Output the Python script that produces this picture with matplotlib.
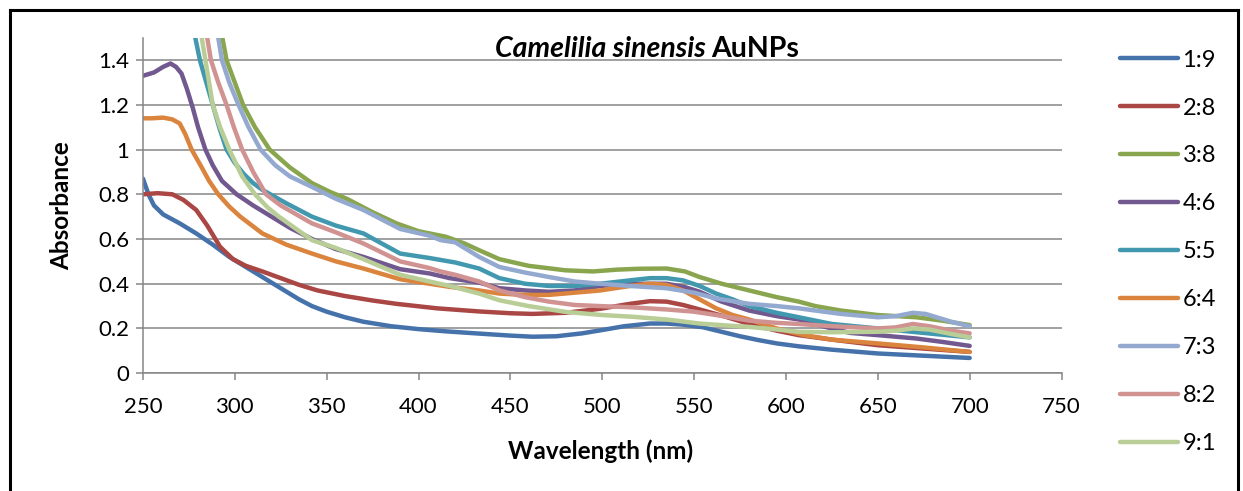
import matplotlib.pyplot as plt
from matplotlib.lines import Line2D

plt.rcParams['font.family'] = ['Lato', 'DejaVu Sans']

# series data (wavelength in nm, absorbance)
labels = ['1:9', '2:8', '3:8', '4:6', '5:5', '6:4', '7:3', '8:2', '9:1']
colors = ['#4572AA', '#AA4643', '#89A54E', '#71588F', '#4198AF',
          '#DB843D', '#93A9CF', '#D19392', '#B9CD96']

wl_1_9 = [250, 253, 256, 261, 270, 279, 288, 297, 306, 315, 325, 335, 342, 350, 360, 370, 385, 400,
          415, 433, 450, 462, 475, 489, 500, 512, 526, 535, 544, 555, 565, 575, 585, 595, 607, 625,
          650, 675, 700]
abs_1_9 = [0.87, 0.80, 0.75, 0.71, 0.67, 0.625, 0.575, 0.52, 0.475, 0.43, 0.38, 0.33, 0.30, 0.275,
           0.25, 0.23, 0.21, 0.197, 0.187, 0.177, 0.168, 0.163, 0.165, 0.178, 0.193, 0.21, 0.222,
           0.222, 0.217, 0.205, 0.185, 0.165, 0.148, 0.133, 0.12, 0.105, 0.088, 0.078, 0.068]

wl_2_8 = [250, 258, 266, 272, 279, 285, 292, 299, 306, 315, 325, 335, 345, 360, 375, 388, 410, 433,
          450, 462, 480, 499, 515, 526, 535, 544, 553, 566, 580, 595, 607, 625, 650, 675, 700]
abs_2_8 = [0.80, 0.805, 0.80, 0.775, 0.73, 0.66, 0.565, 0.51, 0.48, 0.455, 0.425, 0.395, 0.37,
           0.345, 0.325, 0.31, 0.29, 0.276, 0.268, 0.265, 0.27, 0.288, 0.31, 0.322, 0.32, 0.305,
           0.285, 0.255, 0.22, 0.19, 0.17, 0.15, 0.125, 0.11, 0.095]

wl_3_8 = [291, 295.5, 300, 304.5, 311, 319, 330, 342, 352, 361, 375, 388, 400, 415, 425, 433,
          444, 460, 480, 495, 508, 520, 535, 545, 553, 565, 580, 595, 607, 616, 630, 650, 671, 685,
          700]
abs_3_8 = [1.6, 1.4, 1.3, 1.2, 1.1, 1.0, 0.92, 0.85, 0.81, 0.78, 0.72, 0.67,
           0.635, 0.61, 0.58, 0.55, 0.51, 0.48, 0.46, 0.455, 0.463, 0.467, 0.468, 0.455, 0.43, 0.40,
           0.37, 0.34, 0.32, 0.30, 0.28, 0.26, 0.25, 0.235, 0.215]

wl_4_6 = [250, 256, 261, 265, 268, 271, 274, 277, 280, 284, 288, 293, 301, 310, 320, 330, 342, 355,
          370, 390, 406, 417, 433, 444, 458, 471, 485, 499, 515, 535, 545, 553, 565, 580, 595, 607,
          620, 635, 650, 671, 685, 700]
abs_4_6 = [1.33, 1.345, 1.37, 1.385, 1.37, 1.34, 1.27, 1.19, 1.1, 1.0, 0.93, 0.86, 0.80, 0.75,
           0.70, 0.65, 0.60, 0.555, 0.52, 0.465, 0.446, 0.425, 0.405, 0.38, 0.37, 0.364, 0.37, 0.39,
           0.40, 0.40, 0.385, 0.364, 0.32, 0.28, 0.255, 0.24, 0.21, 0.18, 0.17, 0.155, 0.14, 0.122]

wl_5_5 = [276, 281, 284.5, 288, 291.5, 295.5, 300, 305, 310, 315, 328, 342, 355, 370, 390, 406, 420,
          433, 444, 458, 471, 485, 499, 515, 526, 535, 544, 553, 562, 571, 580, 595, 607, 625, 650,
          675, 700]
abs_5_5 = [1.6, 1.4, 1.3, 1.2, 1.1, 1.0, 0.94, 0.89, 0.85, 0.82, 0.76, 0.70, 0.66, 0.625, 0.535,
           0.515, 0.495, 0.468, 0.425, 0.40, 0.39, 0.39, 0.40, 0.415, 0.425, 0.425, 0.415, 0.39,
           0.356, 0.33, 0.30, 0.27, 0.25, 0.22, 0.2, 0.18, 0.16]

wl_6_4 = [250, 255, 261, 266, 270, 273, 276.5, 282, 286, 291, 297, 303, 315, 328, 342, 355, 370,
          390, 406, 417, 433, 444, 458, 471, 485, 499, 515, 526, 535, 544, 553, 562, 571, 580, 595,
          610, 625, 650, 675, 700]
abs_6_4 = [1.14, 1.14, 1.143, 1.135, 1.117, 1.07, 1.0, 0.92, 0.86, 0.80, 0.745, 0.70, 0.625, 0.575,
           0.535, 0.50, 0.468, 0.42, 0.40, 0.386, 0.37, 0.356, 0.35, 0.35, 0.36, 0.37, 0.39, 0.40,
           0.395, 0.37, 0.33, 0.29, 0.26, 0.24, 0.20, 0.17, 0.15, 0.133, 0.115, 0.095]

wl_7_3 = [289, 293, 297, 302, 307.5, 314, 322, 330, 342, 355, 370, 390, 406, 412, 420, 433, 444,
          458, 471, 485, 499, 515, 535, 550, 562, 580, 595, 607, 616, 630, 650, 660, 669, 676, 682,
          690, 700]
abs_7_3 = [1.6, 1.4, 1.3, 1.2, 1.1, 1.0, 0.93, 0.88, 0.833, 0.78, 0.73, 0.645, 0.615, 0.595,
           0.585, 0.52, 0.475, 0.45, 0.43, 0.41, 0.40, 0.39, 0.38, 0.36, 0.334, 0.31, 0.30, 0.29,
           0.28, 0.265, 0.25, 0.255, 0.27, 0.265, 0.25, 0.23, 0.21]

wl_8_2 = [283, 287, 291, 295.5, 299.5, 304, 310, 317, 325, 342, 355, 370, 390, 406, 412, 420, 433,
          444, 458, 471, 485, 499, 515, 535, 550, 562, 580, 595, 607, 625, 650, 660, 669, 678, 690,
          700]
abs_8_2 = [1.6, 1.4, 1.3, 1.2, 1.1, 1.0, 0.9, 0.8, 0.75, 0.67, 0.63, 0.58, 0.5, 0.47, 0.455, 0.44,
           0.41, 0.37, 0.34, 0.32, 0.305, 0.30, 0.295, 0.285, 0.275, 0.26, 0.235, 0.225, 0.22,
           0.21, 0.20, 0.205, 0.22, 0.21, 0.19, 0.178]

wl_9_1 = [280, 284, 288, 292, 297, 304, 311, 318, 324, 342, 355, 370, 390, 406, 417, 433, 444, 460,
          480, 500, 517, 535, 553, 570, 580, 595, 607, 625, 650, 660, 669, 678, 690, 700]
abs_9_1 = [1.6, 1.4, 1.2, 1.1, 1.0, 0.88, 0.8, 0.74, 0.70, 0.595, 0.56, 0.51, 0.44, 0.41, 0.39,
           0.356, 0.326, 0.30, 0.274, 0.26, 0.252, 0.24, 0.222, 0.212, 0.207, 0.195, 0.185, 0.183,
           0.185, 0.19, 0.20, 0.195, 0.175, 0.16]

series = [(wl_1_9, abs_1_9), (wl_2_8, abs_2_8), (wl_3_8, abs_3_8), (wl_4_6, abs_4_6),
          (wl_5_5, abs_5_5), (wl_6_4, abs_6_4), (wl_7_3, abs_7_3), (wl_8_2, abs_8_2),
          (wl_9_1, abs_9_1)]

fig = plt.figure(figsize=(12.43, 4.91), dpi=100)
ax = fig.add_axes([0.115, 0.240, 0.739, 0.683])

for (x, y), lab, c in zip(series, labels, colors):
    ax.plot(x, y, color=c, lw=3.2, label=lab, solid_capstyle='round', solid_joinstyle='round')

ax.set_xlim(250, 750)
ax.set_ylim(0, 1.5)
ax.set_xticks(range(250, 751, 50))
ax.set_yticks([0, 0.2, 0.4, 0.6, 0.8, 1, 1.2, 1.4])
ax.set_yticklabels(['0', '0.2', '0.4', '0.6', '0.8', '1', '1.2', '1.4'])
ax.grid(axis='y', color='#868686', lw=1.1)
ax.set_axisbelow(True)
for s in ['top', 'right']:
    ax.spines[s].set_visible(False)
for s in ['left', 'bottom']:
    ax.spines[s].set_color('#868686')
    ax.spines[s].set_linewidth(1.1)
ax.tick_params(colors='#868686', labelcolor='black', labelsize=16, length=5, width=1.1)
ax.tick_params(axis='x', pad=12)
ax.tick_params(axis='y', pad=5)

ax.set_xlabel('Wavelength (nm)', fontsize=17.5, fontweight='bold', va='center')
ax.set_ylabel('Absorbance', fontsize=17.5, fontweight='bold', va='center')
ax.xaxis.set_label_coords(0.498, -0.233)
ax.yaxis.set_label_coords(-0.088, 0.5)

# title: italic species name + upright AuNPs
ax.text(0.613, 0.942, 'Camelilia sinensis', transform=ax.transAxes, ha='right', va='baseline',
        fontsize=20.5, fontweight='bold', fontstyle='italic')
ax.text(0.619, 0.942, 'AuNPs', transform=ax.transAxes, ha='left', va='baseline',
        fontsize=20.5, fontweight='bold')

fig.legend(loc='upper left', bbox_to_anchor=(0.901, 0.899), frameon=False, fontsize=17,
           handlelength=2.45, handletextpad=0.2, labelspacing=1.14, borderpad=0,
           borderaxespad=0)

# outer frame of the figure panel
W, H = 1243, 491
fig.add_artist(Line2D([10 / W, 10 / W], [0, 1 - 10 / H], color='black', lw=2.2))
fig.add_artist(Line2D([10 / W, 1238 / W], [1 - 10 / H, 1 - 10 / H], color='black', lw=2.2))
fig.add_artist(Line2D([1238 / W, 1238 / W], [0, 1 - 10 / H], color='black', lw=2.2))

fig.savefig('out.png', dpi=100)
